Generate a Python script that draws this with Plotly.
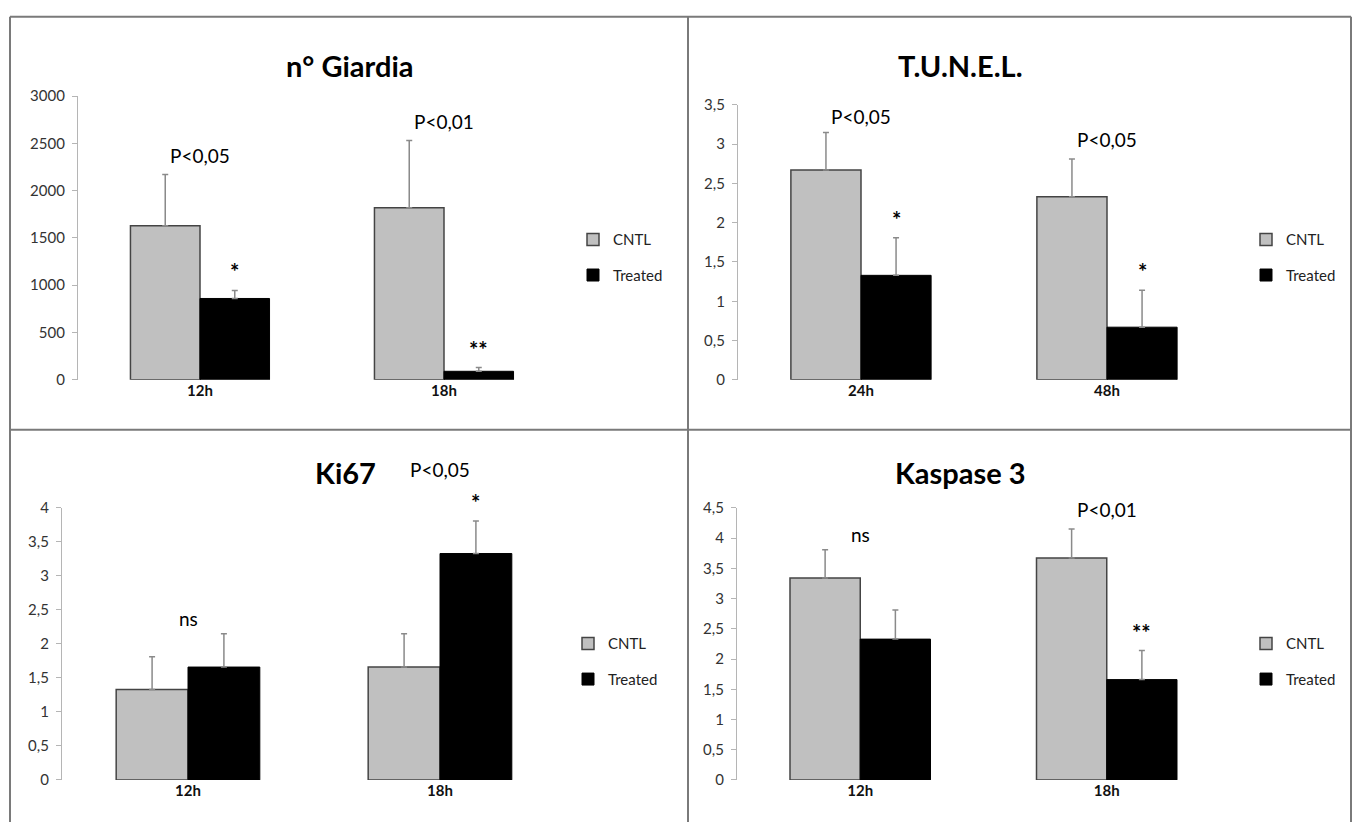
import plotly.graph_objects as go

# ---------------- data ----------------
titles = ["n° Giardia", "T.U.N.E.L.", "Ki67", "Kaspase 3"]
cats_giardia = ["12h", "18h"]
cats_tunel = ["24h", "48h"]
cats_ki67 = ["12h", "18h"]
cats_kasp = ["12h", "18h"]

giardia_cntl = [1630, 1820]
giardia_cntl_err = [540, 710]
giardia_trt = [860, 90]
giardia_trt_err = [85, 40]

tunel_cntl = [2.67, 2.33]
tunel_cntl_err = [0.48, 0.48]
tunel_trt = [1.33, 0.67]
tunel_trt_err = [0.48, 0.47]

ki67_cntl = [1.33, 1.66]
ki67_cntl_err = [0.48, 0.49]
ki67_trt = [1.66, 3.33]
ki67_trt_err = [0.49, 0.48]

kasp_cntl = [3.34, 3.67]
kasp_cntl_err = [0.47, 0.48]
kasp_trt = [2.33, 1.66]
kasp_trt_err = [0.48, 0.48]

giardia_ticks = [0, 500, 1000, 1500, 2000, 2500, 3000]
giardia_ticktext = ["0", "500", "1000", "1500", "2000", "2500", "3000"]
tunel_ticks = [0, 0.5, 1, 1.5, 2, 2.5, 3, 3.5]
tunel_ticktext = ["0", "0,5", "1", "1,5", "2", "2,5", "3", "3,5"]
ki67_ticks = [0, 0.5, 1, 1.5, 2, 2.5, 3, 3.5, 4]
ki67_ticktext = ["0", "0,5", "1", "1,5", "2", "2,5", "3", "3,5", "4"]
kasp_ticks = [0, 0.5, 1, 1.5, 2, 2.5, 3, 3.5, 4, 4.5]
kasp_ticktext = ["0", "0,5", "1", "1,5", "2", "2,5", "3", "3,5", "4", "4,5"]

giardia_p = ["P<0,05", "P<0,01"]
giardia_stars = ["*", "**"]
tunel_p = ["P<0,05", "P<0,05"]
tunel_stars = ["*", "*"]
ki67_p = ["ns", "P<0,05"]
ki67_stars = ["", "*"]
kasp_p = ["ns", "P<0,01"]
kasp_stars = ["", "**"]

series_names = ["CNTL", "Treated"]

# ---------------- layout geometry (pixels) ----------------
W, H = 1354, 830
FONT = "Lato, 'Open Sans', sans-serif"
BARGAP = 0.43

def px_x(v):
    return v / W

def px_y(v):
    return 1 - v / H

panels = [
    dict(cats=cats_giardia, c=giardia_cntl, ce=giardia_cntl_err, t=giardia_trt, te=giardia_trt_err,
         ticks=giardia_ticks, ticktext=giardia_ticktext, rng=[0, 3000], p=giardia_p, s=giardia_stars,
         xd=[78, 566], yd=[378, 88], title_xy=(350, 57), leg_xy=(573, 218),
         pshift=[6, 6]),
    dict(cats=cats_tunel, c=tunel_cntl, ce=tunel_cntl_err, t=tunel_trt, te=tunel_trt_err,
         ticks=tunel_ticks, ticktext=tunel_ticktext, rng=[0, 3.5], p=tunel_p, s=tunel_stars,
         xd=[738, 1230], yd=[378, 97], title_xy=(960, 57), leg_xy=(1246, 218),
         pshift=[2, 6]),
    dict(cats=cats_ki67, c=ki67_cntl, ce=ki67_cntl_err, t=ki67_trt, te=ki67_trt_err,
         ticks=ki67_ticks, ticktext=ki67_ticktext, rng=[0, 4], p=ki67_p, s=ki67_stars,
         xd=[62, 566], yd=[787, 509], title_xy=(345, 473), leg_xy=(568, 631),
         pshift=[2, 38]),
    dict(cats=cats_kasp, c=kasp_cntl, ce=kasp_cntl_err, t=kasp_trt, te=kasp_trt_err,
         ticks=kasp_ticks, ticktext=kasp_ticktext, rng=[0, 4.5], p=kasp_p, s=kasp_stars,
         xd=[737, 1230], yd=[787, 509], title_xy=(960, 473), leg_xy=(1246, 631),
         pshift=[2, 6]),
]

fig = go.Figure()
annotations = []
layout_axes = {}
legends = {}

for i, pnl in enumerate(panels):
    k = "" if i == 0 else str(i + 1)
    xa, ya = "x" + k, "y" + k
    leg = "legend" + k
    fig.add_trace(go.Bar(
        x=pnl["cats"], y=pnl["c"], name=series_names[0], xaxis=xa, yaxis=ya,
        marker=dict(color="#c0c0c0", line=dict(color="#444444", width=1.5)),
        error_y=dict(type="data", array=pnl["ce"], arrayminus=[0] * len(pnl["ce"]),
                     symmetric=False, color="#8a8a8a", thickness=1.5, width=3),
        legend=leg, legendgroup="c" + k, showlegend=True))
    fig.add_trace(go.Bar(
        x=pnl["cats"], y=pnl["t"], name=series_names[1], xaxis=xa, yaxis=ya,
        marker=dict(color="#000000", line=dict(color="#000000", width=1)),
        error_y=dict(type="data", array=pnl["te"], arrayminus=[0] * len(pnl["te"]),
                     symmetric=False, color="#8a8a8a", thickness=1.5, width=3),
        legend=leg, legendgroup="t" + k, showlegend=True))

    layout_axes["xaxis" + k] = dict(
        domain=[px_x(pnl["xd"][0]), px_x(pnl["xd"][1])], anchor=ya,
        type="category", showline=False, showgrid=False, zeroline=False, ticks="",
        tickfont=dict(family=FONT, size=15, color="#111111", weight="bold"))
    layout_axes["yaxis" + k] = dict(
        domain=[px_y(pnl["yd"][0]), px_y(pnl["yd"][1])], anchor=xa, range=pnl["rng"],
        tickvals=pnl["ticks"], ticktext=pnl["ticktext"],
        showline=True, linecolor="#b5b5b5", linewidth=1.2, ticks="outside",
        ticklen=5, tickcolor="#b5b5b5", showgrid=False, zeroline=False,
        ticklabelstandoff=4,
        tickfont=dict(family=FONT, size=15, color="#333333"))

    legends[leg] = dict(
        x=px_x(pnl["leg_xy"][0]), y=px_y(pnl["leg_xy"][1]), xanchor="left", yanchor="top",
        bgcolor="rgba(0,0,0,0)", font=dict(family=FONT, size=15, color="#222222"),
        traceorder="grouped", tracegroupgap=13, itemwidth=30)

    annotations.append(dict(
        text="<b>" + titles[i] + "</b>", xref="paper", yref="paper",
        x=px_x(pnl["title_xy"][0]), y=px_y(pnl["title_xy"][1]), xanchor="center", yanchor="middle",
        showarrow=False, font=dict(family=FONT, size=29, color="#000000")))

    half = (1 - BARGAP) / 4
    for j in range(len(pnl["cats"])):
        top = max(pnl["c"][j] + pnl["ce"][j], pnl["t"][j] + pnl["te"][j])
        annotations.append(dict(
            text=pnl["p"][j], xref=xa, yref=ya, x=j, y=top, xanchor="center", yanchor="bottom",
            yshift=pnl["pshift"][j], showarrow=False,
            font=dict(family=FONT, size=19, color="#000000")))
        if pnl["s"][j]:
            annotations.append(dict(
                text="<b>" + pnl["s"][j] + "</b>", xref=xa, yref=ya, x=j + half,
                y=pnl["t"][j] + pnl["te"][j], xanchor="center", yanchor="bottom",
                yshift=3, showarrow=False,
                font=dict(family=FONT, size=22, color="#000000")))

border = dict(color="#7a7a7a", width=2)
shapes = [
    dict(type="line", xref="paper", yref="paper", x0=px_x(10), x1=px_x(1351), y0=px_y(7), y1=px_y(7), line=border),
    dict(type="line", xref="paper", yref="paper", x0=px_x(10), x1=px_x(10), y0=px_y(7), y1=px_y(830), line=border),
    dict(type="line", xref="paper", yref="paper", x0=px_x(1351), x1=px_x(1351), y0=px_y(7), y1=px_y(830), line=border),
    dict(type="line", xref="paper", yref="paper", x0=px_x(688), x1=px_x(688), y0=px_y(7), y1=px_y(830), line=border),
    dict(type="line", xref="paper", yref="paper", x0=px_x(10), x1=px_x(1351), y0=px_y(429), y1=px_y(429), line=border),
]

fig.update_layout(
    width=W, height=H, margin=dict(l=0, r=0, t=0, b=0),
    paper_bgcolor="white", plot_bgcolor="white",
    barmode="group", bargap=BARGAP, bargroupgap=0,
    font=dict(family=FONT),
    annotations=annotations, shapes=shapes,
    **layout_axes, **legends)

fig.write_html("out.html", config={"displayModeBar": False},
               post_script="document.body.style.margin='0px';document.body.style.padding='0px';document.body.style.overflow='hidden';")
